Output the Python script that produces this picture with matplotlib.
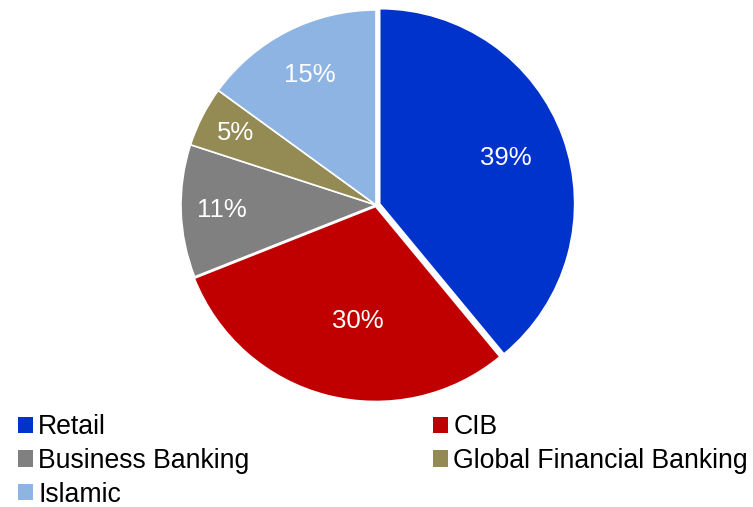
import numpy as np
import matplotlib
matplotlib.use('Agg')
import matplotlib.pyplot as plt
from matplotlib.patches import Patch

plt.rcParams['font.family'] = ['Liberation Sans', 'DejaVu Sans']

# Revenue split by segment
segments = ["Retail", "CIB", "Business Banking", "Global Financial Banking", "Islamic"]
shares = [39, 30, 11, 5, 15]
colors = ["#0033CC", "#C00000", "#808080", "#948A54", "#8DB4E2"]
explode = [0.02, 0.008, 0, 0, 0]
# percentage label placement: radial fraction and angular nudge (deg)
label_dist = [0.71, 0.60, 0.79, 0.81, 0.75]
label_turn = [0, 5.5, 0, 0, 0]

W, H = 753, 507
fig = plt.figure(figsize=(W / 100, H / 100), dpi=100)

# pie axes: centre at (376, 205) px from top-left, radius 195 px
cx, cy, r = 376, 205, 195
pad = 1.1
ax = fig.add_axes([(cx - r * pad) / W, (H - cy - r * pad) / H, 2 * r * pad / W, 2 * r * pad / H])

wedges, _ = ax.pie(shares, colors=colors, startangle=90, counterclock=False,
                   explode=explode, radius=1,
                   wedgeprops=dict(edgecolor='white', linewidth=1.2))
ax.set_xlim(-pad, pad)
ax.set_ylim(-pad, pad)
ax.axis('off')

for w, val, d, t in zip(wedges, shares, label_dist, label_turn):
    mid = np.deg2rad((w.theta1 + w.theta2) / 2 + t)
    ax.text(d * np.cos(mid), d * np.sin(mid), f"{val}%", color='white',
            fontsize=18.5, ha='center', va='center')

# legend laid out row by row: reorder for column-major filling
handles = [Patch(facecolor=c, edgecolor='none') for c in colors]
order = [0, 2, 4, 1, 3]
fig.legend([handles[i] for i in order], [segments[i] for i in order],
           ncol=2, loc='upper left', bbox_to_anchor=(0.024, 0.183),
           frameon=False, fontsize=19.2, handlelength=0.55, handleheight=0.55,
           handletextpad=0.2, columnspacing=6.9, labelspacing=0.29,
           borderpad=0, borderaxespad=0)

fig.savefig('out.png', dpi=100)
